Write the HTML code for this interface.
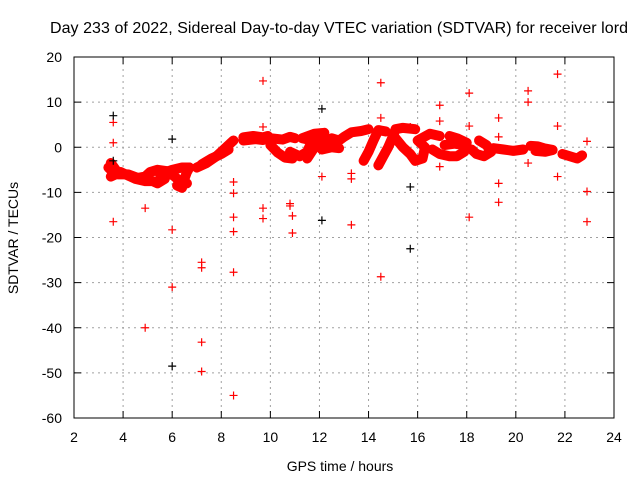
<!DOCTYPE html>
<html><head><meta charset="utf-8"><style>
body{margin:0;background:#fff}
svg{display:block;font-family:"Liberation Sans",sans-serif}
</style></head><body>
<svg id="chart" width="640" height="480">
<rect width="640" height="480" fill="#fff"/>
<text x="339" y="33" text-anchor="middle" font-size="16" textLength="578">Day 233 of 2022, Sidereal Day-to-day VTEC variation (SDTVAR) for receiver lord</text>
<g id="grid"></g><g id="ticks"></g><g id="marks"></g>
<rect x="74" y="57" width="540" height="361" fill="none" stroke="#000"/>
<text x="340" y="471" text-anchor="middle" font-size="14">GPS time / hours</text>
<text transform="translate(18,238) rotate(-90)" text-anchor="middle" font-size="14">SDTVAR / TECUs</text>
</svg>
<script>
const xTicks=[2,4,6,8,10,12,14,16,18,20,22,24];
const yTicks=[20,10,0,-10,-20,-30,-40,-50,-60];
// dense band tracks [time, value]
const bandTracks=[
[[3.4,-4.5],[3.6,-5.5],[3.8,-6],[4.2,-6],[4.6,-6.8],[4.9,-6.5],[5.1,-5.5],[5.4,-5],[5.8,-5.3],[6.1,-6.5],[6.3,-7.5],[6.6,-8]],
[[3.5,-3.5],[3.7,-5],[3.5,-6.5],[3.9,-5.5],[4.5,-7],[4.9,-7.5],[5.2,-7.5],[5.4,-8],[5.7,-7],[5.5,-6],[6.0,-5],[6.4,-4.5],[6.7,-4.5]],
[[6.2,-8.5],[6.4,-9],[6.5,-7],[6.6,-5.5],[6.7,-4.5]],
[[7.0,-4.5],[7.4,-3.5],[7.8,-2],[8.1,-0.5],[8.4,1],[8.5,1.5]],
[[7.2,-3.8],[7.6,-2.5],[8.0,-1.5],[8.3,-0.5]],
[[8.9,2.2],[9.3,2.5],[9.7,2.2],[9.9,2.5]],
[[8.9,1.5],[9.4,1.8],[9.7,1.6]],
[[10.0,2],[10.5,1.7],[10.8,2.3],[11.0,2]],
[[10.0,0.5],[10.3,-1.2],[10.6,-2.3],[10.9,-2.5]],
[[10.8,-1],[11.2,-2],[11.5,-1],[11.7,1.5],[11.3,2],[11.8,3],[12.2,3.2]],
[[11.5,-2.5],[11.8,0],[12.0,2.5]],
[[12.2,1],[12.5,2],[12.8,1.5],[13.0,2.3],[13.3,3.3],[13.7,3.6],[14.0,4]],
[[12.1,-0.5],[12.5,0],[12.8,-0.2]],
[[13.8,-3],[14.0,-1],[14.2,1.5],[14.4,3.8],[14.7,3.5]],
[[14.4,-4],[14.6,-2],[14.8,0],[15.0,2.5],[15.1,4],[15.4,4.3],[15.9,4]],
[[15.1,2],[15.4,0],[15.7,-1.5],[15.9,-3],[16.2,-2.5],[16.3,0],[16.0,1.5],[16.5,3],[16.9,2.5]],
[[16.6,-0.5],[16.9,-1.5],[17.3,-2],[17.6,-2],[17.9,-1],[18.0,1],[17.6,2],[17.3,2.5]],
[[17.1,0.5],[17.5,0.8],[17.9,0.5]],
[[18.2,-0.5],[18.4,-1.5],[18.7,-2],[19.0,-1],[18.8,0.5],[18.5,1.5]],
[[19.1,-0.2],[19.5,-0.5],[19.9,-0.8],[20.3,-0.5]],
[[20.6,0.3],[20.9,0.2],[21.2,-0.3],[21.5,-0.6],[21.2,-1],[20.8,-0.8]],
[[21.9,-1.5],[22.2,-2],[22.5,-2.5],[22.7,-1.8]]
];
const redX=[3.6,3.6,3.6,4.9,4.9,6.0,6.0,7.2,7.2,7.2,7.2,8.5,8.5,8.5,8.5,8.5,8.5,9.7,9.7,9.7,9.7,10.8,10.8,10.9,10.9,12.1,13.3,13.3,13.3,14.5,14.5,14.5,14.5,15.7,16.9,16.9,16.9,18.1,18.1,18.1,19.3,19.3,19.3,19.3,20.5,20.5,20.5,21.7,21.7,21.7,22.9,22.9,22.9];
const redY=[5.5,1,-16.5,-13.5,-40,-18.3,-31,-25.5,-26.7,-43.2,-49.7,-7.7,-10.2,-15.5,-18.7,-27.7,-55,14.7,4.5,-13.5,-15.8,-12.5,-13,-15.2,-19,-6.5,-5.8,-7,-17.2,14.3,6.5,-28.7,-3.5,4.5,9.3,5.8,-4.3,12,4.7,-15.5,6.5,2.3,-8,-12.2,12.5,10,-3.5,16.2,4.7,-6.5,1.3,-9.8,-16.5];
const blackX=[3.6,3.6,6.0,6.0,12.1,12.1,15.7,15.7];
const blackY=[7,-3,1.8,-48.5,8.5,-16.2,-8.8,-22.5];

const NS='http://www.w3.org/2000/svg';
const sx=t=>74+(t-2)*540/22;
const sy=v=>57+(20-v)*361/80;
function mk(tag,parent,attrs){const e=document.createElementNS(NS,tag);for(const k in attrs)e.setAttribute(k,attrs[k]);document.getElementById(parent).appendChild(e);return e;}
xTicks.forEach(t=>{
  if(t>2&&t<24){const g=mk('line','grid',{x1:sx(t),x2:sx(t),y1:57,y2:418,stroke:'#a0a0a0','stroke-dasharray':'2,4'});
  
  }
  mk('line','ticks',{x1:sx(t),x2:sx(t),y1:418,y2:411,stroke:'#000'});
  mk('line','ticks',{x1:sx(t),x2:sx(t),y1:57,y2:64,stroke:'#000'});
  const l=mk('text','ticks',{x:sx(t),y:442,'text-anchor':'middle','font-size':14});l.textContent=t;
  
  
});
yTicks.forEach(v=>{
  if(v<20&&v>-60){const g=mk('line','grid',{x1:74,x2:614,y1:sy(v),y2:sy(v),stroke:'#a0a0a0','stroke-dasharray':'2,4'});
  
  }
  mk('line','ticks',{x1:74,x2:81,y1:sy(v),y2:sy(v),stroke:'#000'});
  mk('line','ticks',{x1:614,x2:607,y1:sy(v),y2:sy(v),stroke:'#000'});
  const l=mk('text','ticks',{x:62,y:sy(v)+5,'text-anchor':'end','font-size':14});l.textContent=v;
  
  
});
bandTracks.forEach(tr=>{
  const p=mk('polyline','marks',{points:tr.map(d=>sx(d[0])+','+sy(d[1])).join(' '),fill:'none',stroke:'#f00','stroke-width':10,'stroke-linejoin':'round','stroke-linecap':'round'});
  
  
});
function plus(x,y,c,name){
  const p=mk('path','marks',{d:`M${x-4},${y}H${x+4}M${x},${y-4}V${y+4}`,stroke:c,'stroke-width':1.2});
  
  
}
redX.forEach((t,i)=>plus(sx(t),sy(redY[i]),'#f00','outlier-point'));
blackX.forEach((t,i)=>plus(sx(t),sy(blackY[i]),'#000','reference-point'));
</script>
</body></html>
